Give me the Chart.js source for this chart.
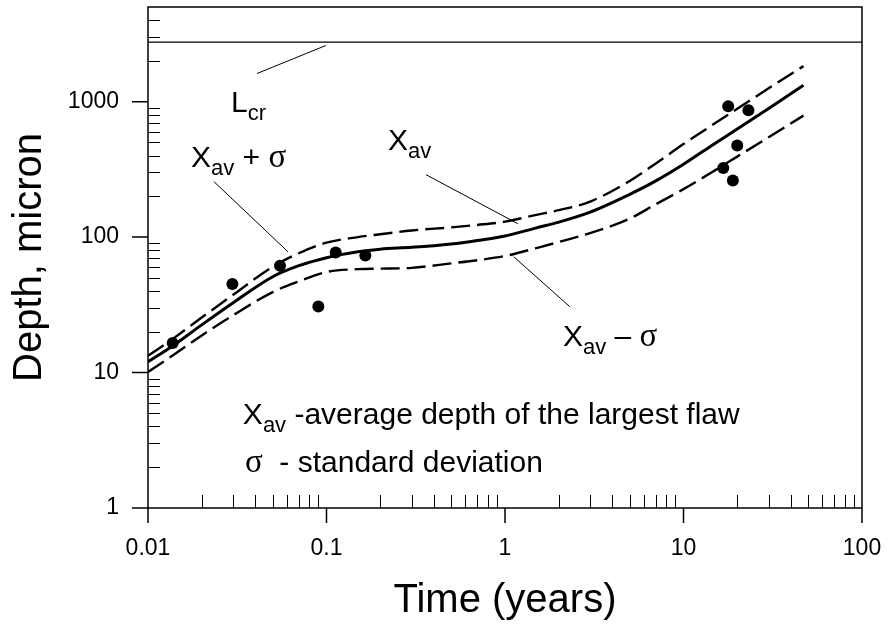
<!DOCTYPE html>
<html><head><meta charset="utf-8">
<script src="https://cdn.jsdelivr.net/npm/chart.js@4/dist/chart.umd.min.js"></script>
<style>html,body{margin:0;padding:0;background:#fff;}#wrap{width:890px;height:625px;}</style>
</head><body><div id="wrap"><canvas id="c" width="890" height="625"></canvas></div>
<script>
// ---- data ----
const timeGrid   = [0.01, 0.014, 0.02, 0.03, 0.05, 0.07, 0.1, 0.15, 0.2, 0.3, 0.5, 0.7, 1, 1.5, 2, 3, 5, 7, 10, 15, 20, 30, 47];
const xavDepth   = [12, 16, 22.5, 32.8, 51, 61.5, 70.5, 78, 81.5, 84, 89, 94.5, 102, 117, 129, 153, 207, 260, 345, 492, 629, 891, 1320];
const upperDepth = [13.3, 18, 25.5, 37.5, 60.5, 76, 91, 100, 105, 112, 118, 123, 130, 146, 158, 183, 260, 350, 486, 692, 885, 1256, 1830];
const lowerDepth = [10.1, 13.6, 18.8, 26.5, 39.3, 47.1, 55.3, 58, 58.5, 59.3, 64, 67.5, 72.5, 83, 92, 107, 137, 175, 226, 311, 393, 547, 789];
const obsTime    = [0.01375, 0.0297, 0.0549, 0.0900, 0.1126, 0.165, 16.7, 17.8, 18.9, 20.0, 23.1];
const obsDepth   = [16.5, 45.0, 61.5, 30.7, 77.1, 73.3, 324, 925, 262, 474, 864];
const lcrDepth   = 2750;
const xTickLabels = [0.01, 0.1, 1, 10, 100];
const yTickLabels = [1, 10, 100, 1000];
const xRange = [0.01, 100];
const yRange = [1, 5000];

const SANS = '"Liberation Sans", Arial, Helvetica, sans-serif';
const SERIF = '"Liberation Serif", "Times New Roman", serif';

const toPts = (xs, ys) => xs.map((v, i) => ({x: v, y: ys[i]}));

// annotation anchors (data coordinates)
const annotationTexts = [
  {at: [0.0292, 845],  parts: [{t: 'L', s: 30}, {t: 'cr', s: 22, dy: 8}]},
  {at: [0.01741, 330], parts: [{t: 'X', s: 30}, {t: 'av', s: 22, dy: 8}, {t: ' + ', s: 30}, {t: 'σ', s: 33, f: SERIF}]},
  {at: [0.2212, 442.6], parts: [{t: 'X', s: 30}, {t: 'av', s: 22, dy: 8}]},
  {at: [2.113, 15.75], parts: [{t: 'X', s: 30}, {t: 'av', s: 22, dy: 8}, {t: ' \u2013 ', s: 30}, {t: 'σ', s: 33, f: SERIF}]},
  {at: [0.034, 4.18],  parts: [{t: 'X', s: 30}, {t: 'av', s: 22, dy: 8}, {t: ' -average depth of the largest flaw', s: 30}]},
  {at: [0.0349, 1.85], parts: [{t: 'σ', s: 33, f: SERIF}, {t: '  - standard deviation', s: 30}]}
];
const pointerLines = [
  [[0.0408, 1614], [0.0993, 2600]],
  [[0.0234, 257],  [0.0608, 78]],
  [[0.361, 289],   [1.18, 125.6]],
  [[1.12, 71.6],   [2.31, 30.6]]
];

function decadeMinors(min, max) {
  const out = [];
  for (let d = Math.floor(Math.log10(min)); d < Math.ceil(Math.log10(max)); d++) {
    for (let m = 2; m <= 9; m++) { const v = m * Math.pow(10, d); if (v > min && v < max) out.push(v); }
  }
  return out;
}

const decorPlugin = {
  id: 'decor',
  afterDatasetsDraw(chart) {
    const {ctx, chartArea: a, scales: {x, y}} = chart;
    ctx.save();
    ctx.strokeStyle = '#000';
    ctx.lineWidth = 1.5;
    ctx.strokeRect(a.left, a.top, a.right - a.left, a.bottom - a.top);
    ctx.lineWidth = 1;
    ctx.beginPath();
    decadeMinors(xRange[0], xRange[1]).forEach(v => {
      const p = Math.round(x.getPixelForValue(v)) + 0.5;
      ctx.moveTo(p, a.bottom); ctx.lineTo(p, a.bottom - 13);
    });
    decadeMinors(yRange[0], yRange[1]).forEach(v => {
      const p = Math.round(y.getPixelForValue(v)) + 0.5;
      ctx.moveTo(a.left, p); ctx.lineTo(a.left + 12, p);
    });
    ctx.stroke();
    ctx.lineWidth = 1.5;
    ctx.beginPath();
    xTickLabels.forEach(v => {
      const p = x.getPixelForValue(v);
      ctx.moveTo(p, a.bottom); ctx.lineTo(p, a.bottom + 15);
    });
    yTickLabels.forEach(v => {
      const p = y.getPixelForValue(v);
      ctx.moveTo(a.left, p); ctx.lineTo(a.left - 16, p);
    });
    ctx.stroke();
    ctx.lineWidth = 1;
    ctx.beginPath();
    pointerLines.forEach(([p0, p1]) => {
      ctx.moveTo(x.getPixelForValue(p0[0]), y.getPixelForValue(p0[1]));
      ctx.lineTo(x.getPixelForValue(p1[0]), y.getPixelForValue(p1[1]));
    });
    ctx.stroke();
    ctx.fillStyle = '#000';
    ctx.textBaseline = 'alphabetic';
    ctx.textAlign = 'left';
    annotationTexts.forEach(an => {
      let cx = x.getPixelForValue(an.at[0]);
      const by = y.getPixelForValue(an.at[1]);
      an.parts.forEach(p => {
        ctx.font = `${p.s}px ${p.f || SANS}`;
        ctx.fillText(p.t, cx, by + (p.dy || 0));
        cx += ctx.measureText(p.t).width;
      });
    });
    ctx.restore();
  }
};

const lineBase = {showLine: true, pointRadius: 0, borderColor: '#000', backgroundColor: '#000', cubicInterpolationMode: 'monotone', fill: false};

new Chart(document.getElementById('c'), {
  type: 'scatter',
  data: {
    datasets: [
      Object.assign({label: 'Xav', data: toPts(timeGrid, xavDepth), borderWidth: 3}, lineBase),
      Object.assign({label: 'Xav+sigma', data: toPts(timeGrid, upperDepth), borderWidth: 2.4, borderDash: [19, 7]}, lineBase),
      Object.assign({label: 'Xav-sigma', data: toPts(timeGrid, lowerDepth), borderWidth: 2.4, borderDash: [19, 7]}, lineBase),
      {label: 'Lcr', data: [{x: xRange[0], y: lcrDepth}, {x: xRange[1], y: lcrDepth}], showLine: true, pointRadius: 0, borderColor: '#000', borderWidth: 1.3},
      {label: 'observed', data: toPts(obsTime, obsDepth), showLine: false, pointRadius: 6, pointBackgroundColor: '#000', pointBorderColor: '#000', pointBorderWidth: 0}
    ]
  },
  options: {
    responsive: false,
    animation: false,
    devicePixelRatio: 1,
    layout: {padding: {top: 7, right: 28, left: 0, bottom: 0}},
    plugins: {legend: {display: false}, tooltip: {enabled: false}},
    scales: {
      x: {
        type: 'logarithmic', position: 'bottom', min: xRange[0], max: xRange[1],
        afterBuildTicks: s => { s.ticks = xTickLabels.map(v => ({value: v})); },
        afterFit: s => { s.height = 117; s.paddingLeft = 0; s.paddingRight = 0; },
        ticks: {callback: v => String(v), font: {family: SANS, size: 23}, color: '#000', padding: 12, maxRotation: 0, autoSkip: false},
        grid: {display: false, drawTicks: true, tickLength: 15},
        border: {display: false},
        title: {display: true, text: 'Time (years)', font: {family: SANS, size: 40}, color: '#000', padding: {top: 0, bottom: 0}}
      },
      y: {
        type: 'logarithmic', position: 'left', min: yRange[0], max: yRange[1],
        afterBuildTicks: s => { s.ticks = yTickLabels.map(v => ({value: v})); },
        afterFit: s => { s.width = 148; s.paddingTop = 0; s.paddingBottom = 0; },
        ticks: {callback: v => String(v), font: {family: SANS, size: 23}, color: '#000', padding: 13, autoSkip: false},
        grid: {display: false, drawTicks: true, tickLength: 16},
        border: {display: false},
        title: {display: true, text: 'Depth, micron', font: {family: SANS, size: 40}, color: '#000', padding: {top: 6, bottom: 0}}
      }
    }
  },
  plugins: [decorPlugin]
});
</script>
</body></html>
